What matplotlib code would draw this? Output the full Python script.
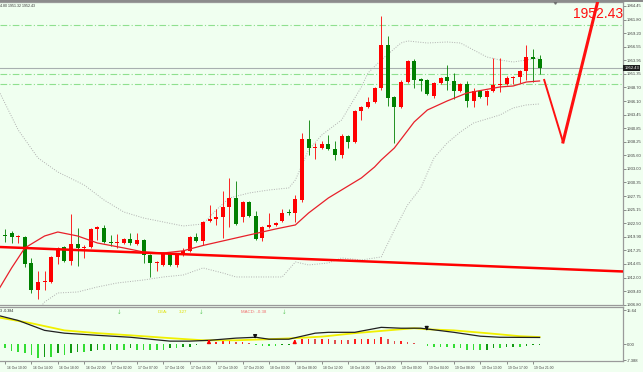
import matplotlib
matplotlib.use('Agg')
import matplotlib.pyplot as plt
from matplotlib import transforms
import numpy as np

# ---------------- data ----------------
opens = [1921.41, 1920.26, 1920.64, 1919.87, 1919.87, 1914.85, 1909.64, 1911.18, 1911.18, 1916.01,
         1917.94, 1915.24, 1918.52, 1917.75, 1917.94, 1921.41, 1921.61, 1918.80, 1918.71, 1918.71,
         1919.48, 1918.52, 1919.29, 1916.40, 1914.85, 1914.47, 1916.78, 1914.47, 1916.40, 1917.17,
         1919.87, 1919.10, 1922.96, 1923.34, 1923.73, 1925.66, 1927.40, 1923.73, 1926.62, 1923.92,
         1919.68, 1921.80, 1922.19, 1922.96, 1924.60, 1924.50, 1927.01, 1938.78, 1937.05, 1937.05,
         1937.82, 1936.85, 1935.70, 1939.36, 1938.20, 1944.19, 1944.96, 1945.92, 1948.63, 1956.92,
         1946.89, 1944.96, 1949.78, 1953.84, 1950.36, 1950.17, 1947.08, 1949.59, 1950.75, 1949.98,
         1948.05, 1949.40, 1946.12, 1948.05, 1946.89, 1948.05, 1949.20, 1949.40, 1950.56, 1950.75,
         1951.91, 1954.61, 1954.22]
highs = [1921.80, 1921.41, 1921.03, 1920.26, 1920.06, 1915.82, 1913.31, 1913.31, 1916.20, 1917.90,
         1918.10, 1924.30, 1921.61, 1918.30, 1921.60, 1922.00, 1922.19, 1920.26, 1920.45, 1919.70,
         1920.64, 1920.64, 1919.40, 1916.60, 1915.30, 1917.00, 1917.00, 1916.60, 1917.75, 1920.10,
         1920.64, 1923.00, 1926.04, 1925.27, 1928.74, 1931.26, 1930.68, 1926.80, 1926.80, 1924.88,
         1922.00, 1924.50, 1922.80, 1925.27, 1925.27, 1927.98, 1939.94, 1942.45, 1938.01, 1938.40,
         1939.55, 1938.40, 1939.75, 1939.50, 1944.40, 1945.20, 1946.89, 1948.82, 1962.52, 1958.66,
         1947.10, 1950.17, 1954.00, 1954.22, 1950.50, 1950.36, 1949.80, 1950.70, 1953.06, 1951.52,
         1949.60, 1949.98, 1948.63, 1948.20, 1948.20, 1954.42, 1954.42, 1950.94, 1950.90, 1952.10,
         1956.92, 1956.15, 1954.99]
lows = [1919.87, 1918.90, 1918.71, 1918.71, 1914.08, 1909.06, 1907.90, 1909.64, 1911.00, 1914.66,
        1915.00, 1914.50, 1914.27, 1915.82, 1917.70, 1919.29, 1918.71, 1918.13, 1917.75, 1918.50,
        1918.32, 1918.30, 1914.85, 1912.15, 1913.31, 1914.30, 1914.20, 1914.08, 1916.20, 1917.00,
        1918.90, 1918.32, 1922.70, 1922.19, 1919.68, 1921.80, 1922.20, 1922.76, 1923.70, 1919.30,
        1919.10, 1921.60, 1922.00, 1922.76, 1924.10, 1922.76, 1926.62, 1935.70, 1934.92, 1936.85,
        1936.70, 1934.73, 1935.12, 1937.05, 1938.00, 1942.45, 1944.80, 1945.70, 1948.24, 1945.15,
        1938.01, 1944.80, 1949.60, 1948.63, 1948.05, 1947.28, 1946.70, 1949.40, 1948.24, 1946.50,
        1947.85, 1944.96, 1944.96, 1946.70, 1945.35, 1947.90, 1947.85, 1949.20, 1949.40, 1949.59,
        1950.17, 1949.78, 1951.33]
closes = [1920.26, 1920.06, 1919.87, 1920.06, 1914.66, 1909.64, 1911.18, 1911.38, 1916.01, 1917.75,
          1915.24, 1918.52, 1917.75, 1917.94, 1921.41, 1921.80, 1918.90, 1918.71, 1918.80, 1919.48,
          1918.71, 1919.29, 1916.40, 1914.85, 1915.05, 1916.78, 1914.47, 1916.40, 1917.17, 1919.87,
          1919.10, 1922.76, 1923.34, 1923.73, 1925.66, 1927.40, 1922.38, 1926.62, 1923.92, 1919.48,
          1921.80, 1922.19, 1922.57, 1924.50, 1924.40, 1927.20, 1938.78, 1937.05, 1937.24, 1937.82,
          1936.85, 1935.70, 1939.36, 1938.20, 1944.19, 1944.96, 1945.92, 1948.63, 1956.92, 1946.70,
          1944.96, 1949.78, 1953.84, 1950.17, 1949.98, 1947.47, 1949.59, 1950.56, 1949.98, 1948.05,
          1949.40, 1946.12, 1948.05, 1946.89, 1948.05, 1949.20, 1949.40, 1950.56, 1950.75, 1951.91,
          1954.61, 1954.22, 1952.43]

# middle band (red MA) read at selected bars
ma_idx = [0, 2, 4, 7, 9, 12, 15, 19, 22, 25, 28, 31, 34, 38, 42, 45, 47, 50, 55, 57, 58, 60, 63, 65, 68, 71, 76, 78, 80, 82]
ma_val = [1909.64, 1913.89, 1917.75, 1920.06, 1920.83, 1920.06, 1918.71, 1917.75, 1916.97, 1916.78,
          1917.20, 1918.23, 1919.10, 1920.26, 1921.41, 1922.19, 1924.50, 1927.40, 1931.26, 1933.38,
          1934.73, 1937.05, 1942.07, 1944.38, 1946.12, 1947.66, 1948.82, 1949.01, 1949.78, 1949.98]
# Bollinger upper / lower bands
up_idx = [0, 3, 6, 9, 13, 16, 19, 22, 25, 28, 31, 33, 35, 38, 41, 44, 45, 47, 49, 52, 55, 56, 58, 61, 62,
          65, 68, 70, 72, 74, 76, 78, 80, 82]
up_val = [1948.24, 1940.52, 1935.12, 1932.41, 1929.90, 1927.01, 1924.69, 1923.53, 1922.76, 1921.99,
          1922.38, 1925.08, 1927.40, 1928.36, 1928.94, 1929.33, 1930.87, 1936.66, 1939.55, 1942.45,
          1948.82, 1951.52, 1954.03, 1957.31, 1957.70, 1957.31, 1957.50, 1957.31, 1955.96, 1954.61,
          1954.03, 1953.64, 1954.03, 1954.42]
lo_idx = [6, 7, 9, 12, 15, 18, 22, 25, 28, 31, 34, 36, 40, 43, 45, 47, 50, 52, 55, 58, 60, 62, 64, 66,
          68, 70, 72, 74, 76, 78, 80, 82]
lo_val = [1905.78, 1907.32, 1909.06, 1909.25, 1910.22, 1910.99, 1911.57, 1912.15, 1912.53, 1913.89,
          1912.92, 1912.15, 1912.15, 1912.15, 1915.05, 1914.47, 1914.85, 1915.82, 1915.43, 1916.01,
          1921.22, 1926.04, 1929.33, 1935.12, 1938.01, 1940.14, 1941.87, 1942.64, 1943.42, 1944.77,
          1945.35, 1945.54]

# drawn objects
trend_x = [0.24, 94.64]
trend_y = [1917.93, 1913.21]
level_lines = [1960.78, 1951.42, 1949.40]
last_price = 1952.43
arrow_x = [82.7, 85.55, 90.9]
arrow_y = [1950.17, 1938.20, 1965.8]

# MACD panel
hist = [0.0, -2.0, -3.1, -3.5, -4.3, -5.1, -6.6, -5.8, -6.1, -4.3,
        -5.1, -4.3, -3.5, -3.5, -3.1, -2.8, -2.8, -2.5, -2.5, -2.5,
        -2.0, -2.5, -2.5, -2.5, -2.5, -2.5, -2.0, -2.0, -1.5, -1.2,
        -0.5, 0.3, 0.8, 1.1, 1.5, 1.5, 1.1, 1.1, 0.6, -0.5,
        -0.8, -0.8, -0.8, -0.6, -0.5, 0.3, 2.6, 2.6, 2.3, 2.6,
        2.6, 2.1, 2.1, 1.8, 2.3, 2.3, 2.6, 2.6, 3.4, 2.6,
        1.4, 1.4, 1.1, 0.6, 0.2, -0.9, -1.2, -1.2, -1.5, -2.0,
        -2.0, -2.5, -2.5, -2.8, -2.5, -2.0, -2.0, -1.5, -1.2, -1.2,
        -0.9, -0.6, -0.5]
dif_idx = [0, 3, 5, 7, 10, 15, 20, 26, 29, 32, 36, 39, 41, 44, 48, 50, 54, 58, 61, 64, 69, 73, 76, 82]
dif_val = [13.3, 11.0, 8.7, 6.4, 5.1, 4.1, 3.2, 1.4, 1.4, 1.8, 2.8, 3.2, 2.3, 2.3, 5.1, 5.5, 5.5, 7.8,
           7.4, 7.4, 5.5, 3.7, 3.2, 3.1]
dea_idx = [0, 5, 10, 15, 20, 26, 31, 36, 41, 45, 49, 50, 54, 59, 63, 65, 69, 74, 79, 82]
dea_val = [12.4, 9.7, 6.4, 5.1, 4.1, 2.8, 1.8, 1.8, 2.3, 2.8, 3.5, 3.8, 5.1, 6.4, 7.4, 6.9, 6.4, 5.1, 3.7, 3.3]
up_arrows = [31.9, 44.9]
down_arrows = [(38.9, 5.1, 1.1), (64.9, 8.7, 4.9)]
marker_idx = [18.3, 30.7, 43.3]

price_ticks = ['1906.80', '1909.40', '1912.00', '1914.65', '1917.25', '1919.90', '1922.50', '1925.15',
               '1927.75', '1930.35', '1933.00', '1935.60', '1938.25', '1940.85', '1943.45', '1946.10',
               '1948.70', '1951.35', '1953.95', '1956.55', '1959.20', '1961.80', '1964.45']
time_tick_idx = [1, 5, 9, 13, 17, 21, 25, 29, 33, 37, 41, 45, 49, 53, 57, 61, 65, 69, 73, 77, 81]
time_labels = ['16 Oct 10:00', '16 Oct 14:00', '16 Oct 18:00', '16 Oct 22:00', '17 Oct 02:00',
               '17 Oct 07:00', '17 Oct 11:00', '17 Oct 15:00', '17 Oct 19:00', '17 Oct 23:00',
               '18 Oct 03:00', '18 Oct 08:00', '18 Oct 12:00', '18 Oct 16:00', '18 Oct 20:00',
               '19 Oct 00:00', '19 Oct 04:00', '19 Oct 08:00', '19 Oct 13:00', '19 Oct 17:00',
               '19 Oct 21:00']
macd_ticks = [15.64, 0.0, -7.388]
macd_tick_labels = ['15.64', '0.00', '-7.388']

# ---------------- figure ----------------
plt.rcParams['font.family'] = ['Liberation Sans', 'DejaVu Sans']
BG = '#F0FFF0'
GRAY = '#9A9A9A'
W, H = 643, 372
fig = plt.figure(figsize=(W / 100, H / 100), dpi=100)
fig.patch.set_facecolor(BG)


def rect(l, t, r, b):
    return [l / W, 1 - b / H, (r - l) / W, (b - t) / H]


ax = fig.add_axes(rect(0, 2, 623, 305))
axm = fig.add_axes(rect(0, 306.5, 623, 361))
fig.add_artist(plt.Rectangle((0, 1 - 2 / H), 1, 2 / H, transform=fig.transFigure,
                             color='#8C8C8C', lw=0))

XL = (0.242, 94.64)
for a in (ax, axm):
    a.set_facecolor(BG)
    a.set_xlim(*XL)
    for s in a.spines.values():
        s.set_color(GRAY)
        s.set_linewidth(0.9)
    a.spines['left'].set_visible(False)

ax.set_ylim(1906.74, 1965.22)
idx = np.arange(len(opens))
o = np.array(opens); c = np.array(closes); h = np.array(highs); l = np.array(lows)
up = c >= o
cols = np.where(up, '#FF0000', '#008000')

# levels
for lv in level_lines:
    ax.axhline(lv, color='#8FE08F', lw=0.8, ls=(0, (6, 2, 1, 2)), zorder=1)
ax.axhline(last_price, color='#A8B0B0', lw=0.8, zorder=1)

# bands & MA
ax.plot(up_idx, up_val, color='#B0B0B0', lw=0.7, ls=(0, (1, 1.5)), zorder=2)
ax.plot(lo_idx, lo_val, color='#B0B0B0', lw=0.7, ls=(0, (1, 1.5)), zorder=2)

# candles
ax.vlines(idx, l, h, colors=cols, lw=0.6, zorder=3)
body_b = np.minimum(o, c)
body_h = np.maximum(np.abs(c - o), 0.25)
ax.bar(idx, body_h, bottom=body_b, width=0.62, color=cols, lw=0, zorder=4)

ax.plot(ma_idx, ma_val, color='#E8202A', lw=0.9, zorder=5)
ax.plot(trend_x, trend_y, color='#FF0000', lw=1.8, zorder=5, solid_capstyle='butt')

# hand-drawn arrow
ax.plot(arrow_x[:2], arrow_y[:2], color='#FF1010', lw=1.4, zorder=6, clip_on=False)
ax.plot(arrow_x[1:], arrow_y[1:], color='#FF1010', lw=2.2, zorder=6, clip_on=False)
ax.text(87.05, 1962.1, '1952.43', color='#FF1010', fontsize=10, ha='left', va='baseline', zorder=7)
ax.plot([84.35], [1965.22], marker='v', color='#707070', ms=2.5, clip_on=False, zorder=7)

ax.text(0.3, 1964.5, '4.80 1951.32 1952.43', fontsize=2.6, color='#303030', ha='left', va='center')

# price axis
ax.yaxis.tick_right()
ax.set_yticks(np.linspace(1906.80, 1964.45, len(price_ticks)))
ax.set_yticklabels(price_ticks)
ax.tick_params(axis='y', length=2, width=0.5, color='#606060', labelsize=3, labelcolor='#404040', pad=1)
ax.set_xticks([])
ax.text(1.002, last_price, '1952.43', transform=transforms.blended_transform_factory(ax.transAxes, ax.transData),
        fontsize=3, color='white', ha='left', va='center',
        bbox=dict(boxstyle='square,pad=0.25', fc='#202020', ec='none'), clip_on=False, zorder=8)

# MACD panel
axm.set_ylim(-7.82, 17.48)
hc = []
for k, v in enumerate(hist):
    prev = hist[k - 1] if k > 0 else v
    if v < 0:
        hc.append('#33DD33' if v <= prev else '#119911')
    else:
        hc.append('#FF2020' if v >= prev else '#E05050')
axm.bar(idx, hist, width=0.25, color=hc, lw=0, zorder=2)
axm.plot(dea_idx, dea_val, color='#F0F000', lw=1.3, zorder=3)
axm.plot(dif_idx, dif_val, color='#202020', lw=0.9, zorder=4)
for xa in up_arrows:
    axm.annotate('', xy=(xa, 3.6), xytext=(xa, -0.4),
                 arrowprops=dict(arrowstyle='-|>', color='#FF0000', lw=1.0, mutation_scale=5), zorder=5)
for xa, y0, y1 in down_arrows:
    axm.annotate('', xy=(xa, y1), xytext=(xa, y0),
                 arrowprops=dict(arrowstyle='-|>', color='#101010', lw=1.0, mutation_scale=5), zorder=5)
for xm in marker_idx:
    axm.text(xm, 14.9, '↓', color='#66CC66', fontsize=4, ha='center', va='center', family='DejaVu Sans')
axm.text(24.2, 14.9, 'DEA:', color='#E0E000', fontsize=3.2, ha='left', va='center')
axm.text(27.3, 14.9, '3.27', color='#E0E000', fontsize=3.2, ha='left', va='center')
axm.text(36.8, 14.9, 'MACD: -0.38', color='#F07070', fontsize=3.2, ha='left', va='center')
axm.text(0.3, 15.5, '3 -0.384', color='#202020', fontsize=2.6, ha='left', va='center')

axm.yaxis.tick_right()
axm.set_yticks(macd_ticks)
axm.set_yticklabels(macd_tick_labels)
axm.tick_params(axis='y', length=2, width=0.5, color='#606060', labelsize=3, labelcolor='#404040', pad=1)
axm.set_xticks(time_tick_idx)
axm.set_xticklabels(time_labels)
axm.tick_params(axis='x', length=2.5, width=0.5, color='#606060', labelsize=2.4, labelcolor='#404040', pad=0.8)
off = transforms.ScaledTranslation(1.5 / 100, 0, fig.dpi_scale_trans)
for lb in axm.get_xticklabels():
    lb.set_ha('left')
    lb.set_transform(lb.get_transform() + off)

fig.savefig('out.png', dpi=100, facecolor=BG)
